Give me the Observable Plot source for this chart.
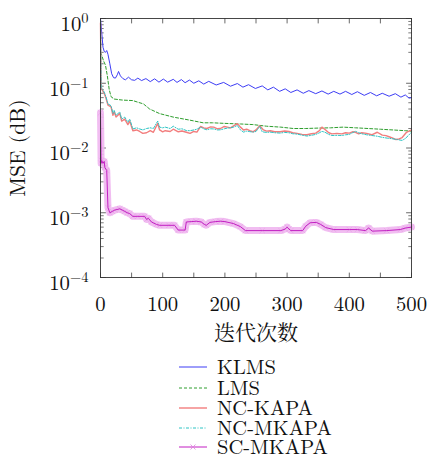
<!DOCTYPE html>
<html><head><meta charset="utf-8">
<script src="https://cdn.jsdelivr.net/npm/d3@7"></script>
<script src="https://cdn.jsdelivr.net/npm/@observablehq/plot@0.6"></script>
<style>
body{margin:0;background:#fff;}
#chart{width:428px;}
#chart svg{display:block;}
</style>
</head><body><div id="chart"></div>
<script>
// ---- data: [iteration, MSE] ----
const klms = [[0,1.0],[2,0.6],[4,0.36],[6,0.31],[8,0.30],[10,0.32],[12,0.28],[15,0.2],[18,0.14],[21,0.122],[24,0.12],[27,0.135],[29,0.152],[32,0.13],[36,0.118],[40,0.113],[45,0.124],[50,0.113],[55,0.111],[60,0.12],[66,0.11],[73,0.118],[80,0.106],[87,0.117],[94,0.104],[101,0.116],[108,0.104],[117,0.115],[123,0.103],[130,0.114],[136,0.102],[143,0.112],[150,0.100],[158,0.109],[166,0.097],[174,0.107],[186,0.094],[198,0.103],[209,0.090],[220,0.099],[229,0.087],[238,0.095],[249,0.083],[260,0.091],[269,0.079],[278,0.087],[288,0.075],[297,0.082],[306,0.072],[316,0.079],[326,0.070],[335,0.077],[346,0.069],[356,0.076],[366,0.068],[375,0.075],[385,0.068],[394,0.075],[404,0.067],[413,0.074],[424,0.065],[434,0.072],[444,0.064],[453,0.070],[464,0.063],[474,0.069],[483,0.061],[490,0.066],[496,0.059],[500,0.060]];
const lms = [[0,0.3],[2,0.27],[5,0.22],[8,0.19],[11,0.13],[14,0.08],[17,0.062],[22,0.057],[35,0.055],[52,0.054],[60,0.051],[69,0.048],[79,0.040],[95,0.034],[117,0.030],[143,0.027],[165,0.0245],[180,0.0245],[200,0.024],[225,0.0235],[245,0.023],[267,0.0217],[290,0.021],[310,0.020],[330,0.020],[350,0.0203],[370,0.0205],[390,0.021],[410,0.0205],[430,0.020],[450,0.0195],[470,0.019],[490,0.0185],[500,0.0182]];
const ncKapa = [[0,0.85],[1,0.085],[3,0.078],[6,0.07],[9,0.058],[12,0.046],[17,0.043],[20,0.032],[22,0.036],[25,0.030],[31,0.034],[34,0.026],[39,0.028],[44,0.023],[47,0.026],[52,0.0185],[58,0.019],[63,0.0180],[68,0.0168],[74,0.0172],[80,0.0185],[85,0.0175],[92,0.024],[95,0.019],[100,0.0178],[104,0.0185],[112,0.018],[117,0.0195],[125,0.0178],[131,0.0183],[138,0.0175],[144,0.0168],[150,0.018],[155,0.0176],[161,0.0215],[166,0.0205],[171,0.020],[177,0.0212],[182,0.021],[188,0.0198],[193,0.020],[199,0.0215],[204,0.021],[209,0.0205],[214,0.022],[220,0.0238],[225,0.021],[230,0.019],[235,0.0195],[240,0.0185],[245,0.0178],[250,0.019],[256,0.022],[262,0.019],[267,0.0182],[273,0.0185],[280,0.0178],[289,0.0178],[296,0.0183],[303,0.018],[309,0.0172],[316,0.0168],[324,0.0162],[332,0.016],[339,0.0166],[346,0.017],[352,0.0185],[356,0.021],[362,0.019],[367,0.0172],[372,0.0165],[380,0.0168],[388,0.0165],[394,0.0172],[400,0.017],[405,0.0178],[410,0.0175],[415,0.0165],[420,0.0172],[428,0.0168],[436,0.016],[445,0.0175],[453,0.0158],[459,0.0155],[465,0.0148],[470,0.0142],[475,0.0135],[480,0.0138],[485,0.0145],[492,0.0175],[500,0.019]];
const ncMkapa = [[0,0.9],[1,0.09],[3,0.08],[6,0.073],[9,0.061],[12,0.048],[17,0.045],[20,0.034],[22,0.038],[25,0.032],[31,0.036],[34,0.028],[39,0.030],[44,0.025],[47,0.028],[52,0.0197],[58,0.0205],[63,0.0197],[68,0.019],[74,0.020],[80,0.0205],[85,0.020],[92,0.026],[95,0.021],[100,0.0205],[104,0.021],[112,0.020],[117,0.0217],[125,0.0195],[131,0.0198],[138,0.0186],[144,0.0185],[150,0.019],[155,0.0195],[161,0.021],[166,0.0198],[171,0.0191],[177,0.0198],[182,0.0197],[188,0.019],[193,0.0191],[199,0.0198],[204,0.0203],[209,0.0205],[214,0.021],[220,0.0223],[225,0.019],[230,0.0176],[235,0.0182],[240,0.0179],[245,0.0176],[250,0.018],[256,0.0215],[260,0.0178],[267,0.0174],[273,0.0176],[280,0.0172],[289,0.017],[296,0.0174],[303,0.0172],[309,0.0166],[316,0.0164],[324,0.0158],[332,0.0153],[339,0.0157],[346,0.0162],[352,0.0172],[356,0.0181],[361,0.0175],[367,0.0162],[372,0.0156],[380,0.0157],[388,0.0156],[394,0.016],[400,0.0162],[405,0.0172],[410,0.0181],[415,0.0172],[420,0.0166],[428,0.016],[436,0.0156],[445,0.0152],[453,0.0146],[461,0.0142],[469,0.0139],[477,0.0135],[485,0.0131],[490,0.014],[495,0.0156],[500,0.0175]];
const scMkapa = [[0,0.035],[1,0.0058],[2,0.0064],[4,0.0058],[6,0.0062],[7,0.005],[10,0.0045],[12,0.0012],[15,0.001],[19,0.00105],[23,0.0011],[31,0.00115],[35,0.0011],[39,0.00105],[43,0.001],[47,0.00097],[52,0.00088],[60,0.00088],[71,0.00088],[74,0.00079],[77,0.00082],[82,0.00072],[90,0.00066],[95,0.00064],[110,0.00064],[119,0.00064],[125,0.00054],[136,0.00054],[138,0.00072],[146,0.00073],[154,0.00074],[162,0.00072],[167,0.00066],[170,0.00064],[176,0.00071],[185,0.00073],[193,0.00074],[200,0.00073],[214,0.00068],[225,0.00061],[233,0.00053],[260,0.00053],[290,0.00053],[297,0.00056],[300,0.0006],[303,0.00056],[306,0.00053],[325,0.00053],[330,0.00062],[337,0.0007],[347,0.00071],[354,0.00066],[362,0.00059],[375,0.00055],[400,0.00055],[413,0.00055],[426,0.00053],[431,0.00058],[437,0.00052],[460,0.00053],[482,0.00055],[490,0.00058],[500,0.0006]];

const seriesNames = ["KLMS","LMS","NC-KAPA","NC-MKAPA","SC-MKAPA"];
const xTickLabels = [0,100,200,300,400,500];
const xTickMarks = [0,50,100,150,200,250,300,350,400,450,500];
const yExponents = [-4,-3,-2,-1,0];
const xLabel = "迭代次数";
const yLabel = "MSE (dB)";

// ---- styles ----
const FONT = '"Latin Modern Roman","Liberation Serif",serif';
const CJK_FONT = '"Noto Serif CJK SC","Noto Sans CJK SC",serif';
const styles = {
  "KLMS":     {stroke:"#3d3df5", strokeWidth:1, dash:null},
  "LMS":      {stroke:"#2e9e2e", strokeWidth:1, dash:"3,2"},
  "NC-KAPA":  {stroke:"#f27d7d", strokeWidth:1.4, dash:null},
  "NC-MKAPA": {stroke:"#2cc4c4", strokeWidth:1, dash:"3,1.5,1,1.5"},
  "SC-MKAPA": {stroke:"#c21fc2", strokeWidth:1, dash:null}
};
const bandColor = "#efb6ef";

const rows = (pairs) => pairs.map(([iter, mse]) => ({iter, mse}));
const seriesData = {"KLMS":rows(klms),"LMS":rows(lms),"NC-KAPA":rows(ncKapa),"NC-MKAPA":rows(ncMkapa),"SC-MKAPA":rows(scMkapa)};

const yMajor = yExponents.map(e => Math.pow(10, e));
const yMinor = yExponents.slice(0, -1).flatMap(e => d3.range(2, 10).map(k => k * Math.pow(10, e)));

const tickShape = {draw(ctx, l) { ctx.moveTo(0, 0); ctx.lineTo(0, -l); }};
const tickColor = "#444";

const lineMark = (name) => Plot.line(seriesData[name], {
  x:"iter", y:"mse", stroke: styles[name].stroke, strokeWidth: styles[name].strokeWidth,
  strokeDasharray: styles[name].dash
});

const chart = Plot.plot({
  width: 428, height: 345,
  marginLeft: 100, marginRight: 17, marginTop: 18, marginBottom: 68,
  style: {fontSize: "20.7px", color: "#111", background: "#fff"},
  x: {domain: [0, 500]},
  y: {type: "log", domain: [1e-4, 1]},
  marks: [
    Plot.vector(xTickMarks, {x: d => d, frameAnchor: "bottom", length: 4.5, rotate: 0, anchor: "start", shape: tickShape, stroke: tickColor, strokeWidth: 0.8}),
    Plot.vector(xTickMarks, {x: d => d, frameAnchor: "top", length: 4.5, rotate: 180, anchor: "start", shape: tickShape, stroke: tickColor, strokeWidth: 0.8}),
    Plot.vector(yMajor, {y: d => d, frameAnchor: "left", length: 5, rotate: 90, anchor: "start", shape: tickShape, stroke: tickColor, strokeWidth: 0.8}),
    Plot.vector(yMajor, {y: d => d, frameAnchor: "right", length: 5, rotate: -90, anchor: "start", shape: tickShape, stroke: tickColor, strokeWidth: 0.8}),
    Plot.vector(yMinor, {y: d => d, frameAnchor: "left", length: 2.8, rotate: 90, anchor: "start", shape: tickShape, stroke: tickColor, strokeWidth: 0.7}),
    Plot.vector(yMinor, {y: d => d, frameAnchor: "right", length: 2.8, rotate: -90, anchor: "start", shape: tickShape, stroke: tickColor, strokeWidth: 0.7}),
    Plot.axisX(xTickLabels, {anchor: "bottom", tickSize: 0, tickPadding: 19, fontSize: 20.7, label: xLabel, labelAnchor: "center", labelOffset: 62, labelArrow: "none"}),
    Plot.axisY(yMajor, {anchor: "left", tickSize: 0, tickPadding: 12, fontSize: 20.7, tickFormat: () => "10", label: yLabel, labelAnchor: "center", labelOffset: 91, labelArrow: "none"}),
    lineMark("KLMS"),
    lineMark("LMS"),
    lineMark("NC-KAPA"),
    lineMark("NC-MKAPA"),
    Plot.line(seriesData["SC-MKAPA"], {x:"iter", y:"mse", stroke: bandColor, strokeWidth: 7, strokeOpacity: 0.9}),
    Plot.dot(seriesData["SC-MKAPA"], {x:"iter", y:"mse", symbol: "times", r: 2.6, stroke: "#e39ae3", strokeWidth: 0.5}),
    lineMark("SC-MKAPA"),
    Plot.frame({stroke: "#333", strokeWidth: 0.9})
  ]
});

const svgSel = d3.select(chart);
svgSel.selectAll("text").style("font-family", FONT);
svgSel.selectAll('g[aria-label="y-axis tick label"] text').each(function(d, i) {
  const t = d3.select(this);
  t.attr("dy", "0.28em");
  const e = yExponents[i];
  t.append("tspan").attr("dy", -8).attr("font-size", 14.5).text(e < 0 ? "\u2212" + Math.abs(e) : String(e));
});
svgSel.selectAll('g[aria-label="y-axis label"] text').attr("font-size", 21.5);
svgSel.selectAll('g[aria-label="x-axis label"] text').attr("font-size", 21).style("font-family", CJK_FONT);

document.getElementById("chart").appendChild(chart);

// ---- legend ----
const leg = d3.create("svg").attr("width", 428).attr("height", 114);
const rowY = [22, 43, 63, 83, 102];
seriesNames.forEach((name, i) => {
  const s = styles[name];
  const g = leg.append("g").attr("transform", `translate(0,${rowY[i]})`);
  g.append("line").attr("x1", 179).attr("x2", 207).attr("y1", 0).attr("y2", 0)
    .attr("stroke", s.stroke).attr("stroke-width", s.strokeWidth)
    .attr("stroke-dasharray", s.dash);
  if (name === "SC-MKAPA") {
    g.append("path").attr("d", "M190.5,-2.5L195.5,2.5M190.5,2.5L195.5,-2.5").attr("stroke", "#dd7fdd").attr("stroke-width", 0.8);
  }
  g.append("text").attr("x", 217).attr("y", 0).attr("dy", "0.35em")
    .attr("font-size", 20.5).attr("fill", "#111").style("font-family", FONT).text(name);
});
document.getElementById("chart").appendChild(leg.node());
</script>
</body></html>
